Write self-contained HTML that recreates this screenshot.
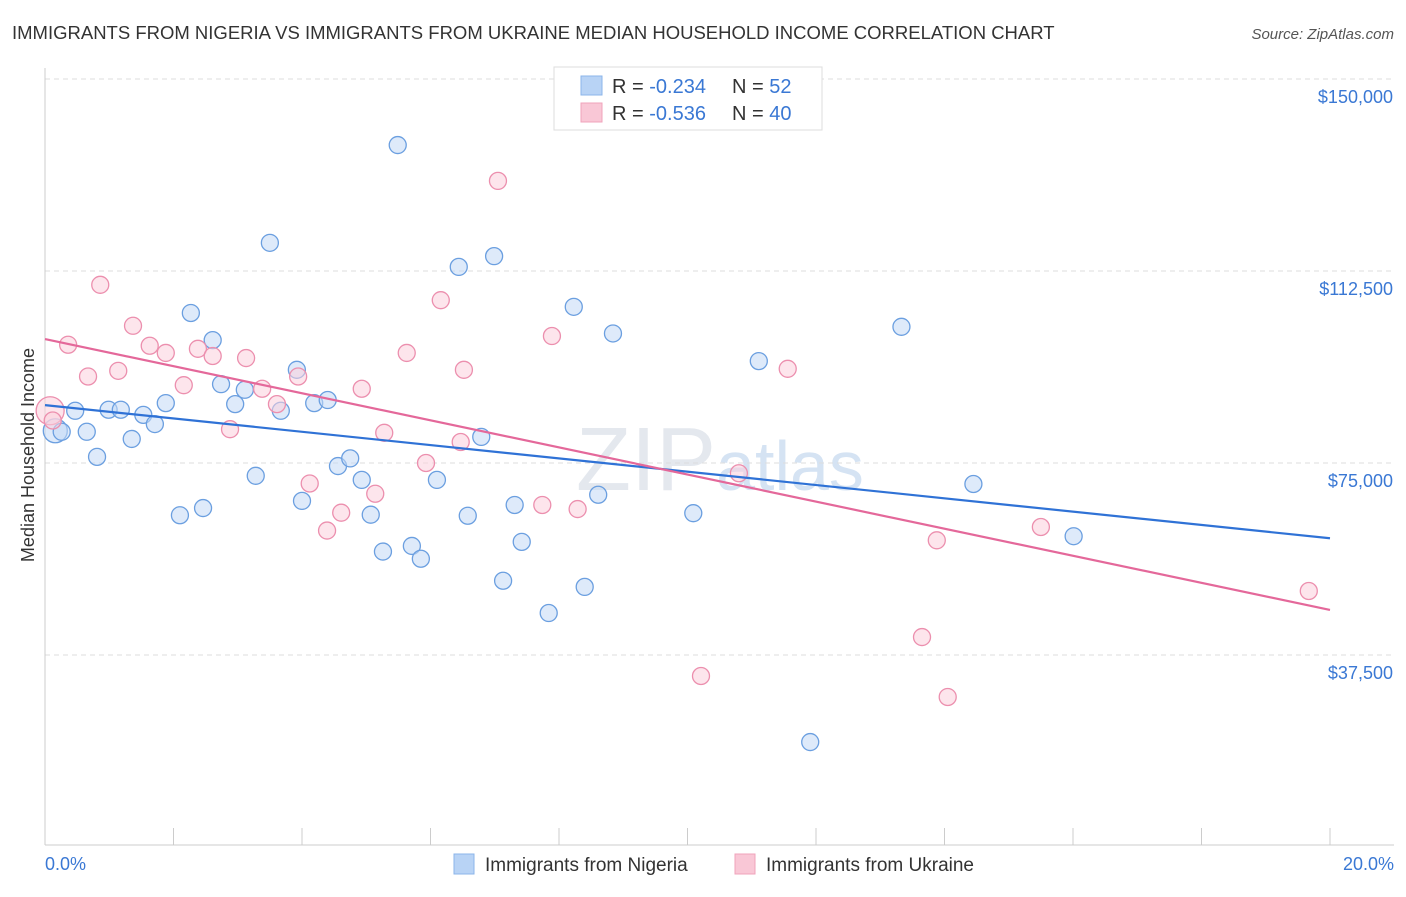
<!DOCTYPE html>
<html><head><meta charset="utf-8">
<style>
body{margin:0;background:#fff;font-family:"Liberation Sans",sans-serif;}
svg text{font-family:"Liberation Sans",sans-serif;}
</style></head><body>
<svg id="chart" width="1406" height="892" viewBox="0 0 1406 892" xmlns="http://www.w3.org/2000/svg">
<text x="12" y="39" font-size="18.5" fill="#333">IMMIGRANTS FROM NIGERIA VS IMMIGRANTS FROM UKRAINE MEDIAN HOUSEHOLD INCOME CORRELATION CHART</text>
<text x="1394" y="39" font-size="15" fill="#555" text-anchor="end" font-style="italic">Source: ZipAtlas.com</text>
<text x="720" y="490" font-size="90" fill="#e4e8ee" text-anchor="middle" font-family="Liberation Serif">ZIP<tspan fill="#d5e3f3" font-family="Liberation Sans" font-size="70">atlas</tspan></text>
<g id="grid"></g>
<g id="axes"></g>
<g id="marks"></g>
<text transform="translate(34,455) rotate(-90)" font-size="18" fill="#333" text-anchor="middle">Median Household Income</text>
<g>
<rect x="554" y="67" width="268" height="63" fill="#fff" stroke="#ddd"/>
<rect x="581" y="76" width="21" height="19" fill="#b8d3f5" stroke="#8bb4ea"/>
<rect x="581" y="103" width="21" height="19" fill="#f9c7d6" stroke="#f0a3bb"/>
<text x="612" y="93" font-size="20" fill="#333">R = <tspan fill="#3a78d4">-0.234</tspan></text>
<text x="732" y="93" font-size="20" fill="#333">N = <tspan fill="#3a78d4"> 52</tspan></text>
<text x="612" y="120" font-size="20" fill="#333">R = <tspan fill="#3a78d4">-0.536</tspan></text>
<text x="732" y="120" font-size="20" fill="#333">N = <tspan fill="#3a78d4">40</tspan></text>
</g>
<g>
<rect x="454" y="854" width="20" height="20" fill="#b8d3f5" stroke="#8bb4ea"/>
<text x="485" y="871" font-size="19" fill="#333">Immigrants from Nigeria</text>
<rect x="735" y="854" width="20" height="20" fill="#f9c7d6" stroke="#f0a3bb"/>
<text x="766" y="871" font-size="19" fill="#333">Immigrants from Ukraine</text>
</g>
</svg>
<script>
const yTicks=[37500,75000,112500,150000];
const yTickLabels=["$37,500","$75,000","$112,500","$150,000"];
const xTicks=[0,2,4,6,8,10,12,14,16,18,20];
const nigeriaX=[0.16,0.26,0.47,0.65,0.81,0.99,1.18,1.35,1.53,1.71,1.88,2.10,2.27,2.46,2.61,2.74,2.96,3.11,3.28,3.50,3.67,3.92,4.00,4.19,4.40,4.56,4.75,4.93,5.07,5.26,5.49,5.71,5.85,6.10,6.44,6.58,6.79,6.99,7.13,7.31,7.42,7.84,8.23,8.40,8.61,8.84,10.09,11.11,11.91,13.33,14.45,16.01];
const nigeriaY=[81300,81100,85200,81100,76200,85400,85400,79700,84400,82600,86700,64800,104300,66200,99000,90400,86500,89300,72500,118000,85200,93200,67600,86700,87300,74400,75900,71700,64900,57700,137100,58800,56300,71700,113300,64700,80100,115400,52000,66800,59600,45700,105500,50800,68800,100300,65200,94900,20500,101600,70900,60700];
const ukraineX=[0.08,0.36,0.67,0.86,1.14,1.37,1.63,1.88,2.16,2.38,2.61,2.88,3.13,3.38,3.61,3.94,4.12,4.39,4.61,4.93,5.14,5.28,5.63,5.93,6.16,6.47,6.52,7.05,7.74,7.89,8.29,10.21,10.80,11.56,13.65,13.88,14.05,15.50,19.67,0.12];
const ukraineY=[85200,98100,91900,109800,93000,101800,97900,96500,90200,97300,95900,81600,95500,89500,86500,91900,71000,61800,65300,89500,69000,80900,96500,75000,106800,79100,93200,130100,66800,99800,66000,33400,73000,93400,41000,59900,29300,62500,50000,83300];
const nigeriaTrend=[[0,86300],[20,60300]];
const ukraineTrend=[[0,99200],[20,46300]];
const NS="http://www.w3.org/2000/svg";
const X0=45,X1=1330,Y0=847,PXV=192/37500;
const sx=v=>X0+(X1-X0)*v/20, sy=v=>Y0-v*PXV;
function mk(t,a,p){const e=document.createElementNS(NS,t);for(const k in a)e.setAttribute(k,a[k]);p.appendChild(e);return e;}
const grid=document.getElementById('grid'),axes=document.getElementById('axes'),marks=document.getElementById('marks');
yTicks.forEach((v,i)=>{
 const l=mk('line',{x1:X0,x2:1394,y1:sy(v),y2:sy(v),stroke:'#ddd','stroke-dasharray':'5,4'},grid);
 
 
 const t=mk('text',{x:1393,y:sy(v)+24,'font-size':18,fill:'#3a78d4','text-anchor':'end'},axes);
 t.textContent=yTickLabels[i];
 
 
});
const tg=mk('line',{x1:X0,x2:1394,y1:79,y2:79,stroke:'#ddd','stroke-dasharray':'5,4'},grid);


const ya=mk('line',{x1:X0,x2:X0,y1:68,y2:845,stroke:'#ccc'},axes);


const xa=mk('line',{x1:X0,x2:1394,y1:845,y2:845,stroke:'#ccc'},axes);


xTicks.forEach(v=>{
 const l=mk('line',{x1:sx(v),x2:sx(v),y1:828,y2:845,stroke:'#ccc'},axes);
 
 
});
const xl0=mk('text',{x:45,y:870,'font-size':18,fill:'#3a78d4'},axes);xl0.textContent='0.0%';


const xl1=mk('text',{x:1394,y:870,'font-size':18,fill:'#3a78d4','text-anchor':'end'},axes);xl1.textContent='20.0%';


function pts(xs,ys,fill,stroke,name){
 xs.forEach((x,i)=>{
  const r=i===0?(name==='nigeria-point'?12:14):8.5;
  const c=mk('circle',{cx:sx(x),cy:sy(ys[i]),r:r,fill:fill,'fill-opacity':0.55,stroke:stroke,'stroke-width':1.3},marks);
  
  
 });
}
pts(nigeriaX,nigeriaY,'#c3d9f5','#6b9fe0','nigeria-point');
pts(ukraineX,ukraineY,'#fbd0dc','#ec8fae','ukraine-point');
function trend(d,col,name){
 const l=mk('line',{x1:sx(d[0][0]),y1:sy(d[0][1]),x2:sx(d[1][0]),y2:sy(d[1][1]),stroke:col,'stroke-width':2.2},marks);
 
 
}
trend(nigeriaTrend,'#2f72d6','nigeria-trend-line');
trend(ukraineTrend,'#e4689a','ukraine-trend-line');
</script>
</body></html>
